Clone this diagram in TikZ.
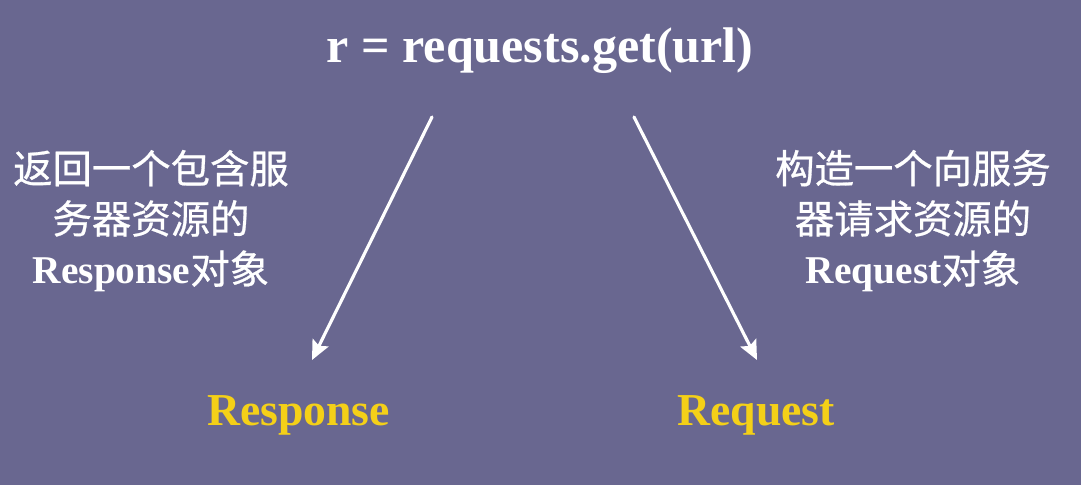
\documentclass[tikz,border=0pt]{standalone}
\usepackage{fontspec}
\setmainfont{Liberation Serif}
\newfontfamily\cjkfont[FakeBold=0.7]{Noto Sans CJK SC}
\usetikzlibrary{arrows.meta}
\definecolor{slidebg}{RGB}{105,103,144}
\definecolor{keyyellow}{RGB}{244,208,24}
\tikzset{
  code/.style={text=white, inner sep=0pt, font=\fontsize{28.5}{34}\selectfont\bfseries},
  note/.style={text=white, inner sep=0pt, align=center, font=\fontsize{22.4}{28.6}\selectfont\cjkfont},
  obj/.style={text=keyyellow, inner sep=0pt, font=\fontsize{26}{30}\selectfont\bfseries},
  ptr/.style={draw=white, line width=1.8pt, -{Stealth[length=11pt,width=10pt,inset=2pt]}},
  every picture/.style={line cap=round, line join=round}
}

\begin{document}
\begin{tikzpicture}
  % slide
  \fill[slidebg] (0,0) rectangle (21.62,-9.70);
  \useasboundingbox (0,0) rectangle (21.62,-9.70);

  % call
  \node[code,anchor=base] (call) at (10.80,-1.24) {r = requests.get(url)};
  \coordinate (callL) at (8.64,-2.34);
  \coordinate (callR) at (12.68,-2.34);

  % returned objects
  \node[obj,anchor=base] (resp) at (5.97,-8.50) {Response};
  \node[obj,anchor=base] (req) at (15.12,-8.50) {Request};
  \coordinate (respT) at (6.24,-7.20);
  \coordinate (reqT) at (15.14,-7.20);

  % notes
  \node[note] (respnote) at (3.02,-4.42) {返回一个包含服\\务器资源的\\{\rmfamily\bfseries Response}对象};
  \node[note] (reqnote) at (18.26,-4.42) {构造一个向服务\\器请求资源的\\{\rmfamily\bfseries Request}对象};

  \draw[ptr] (callL) -- (respT);
  \draw[ptr] (callR) -- (reqT);
\end{tikzpicture}
\end{document}
